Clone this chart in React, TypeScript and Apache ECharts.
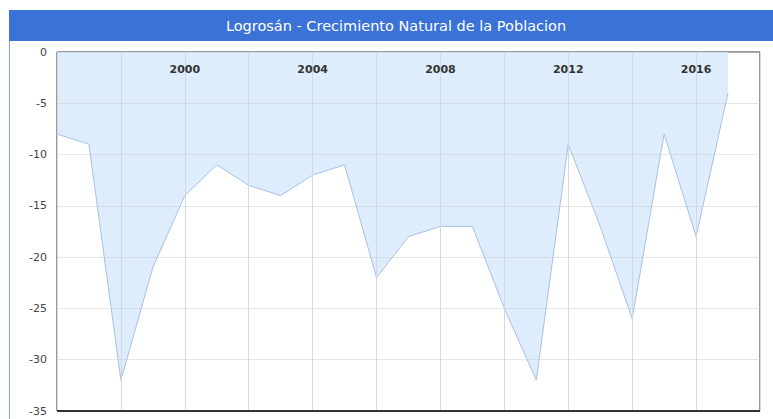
import React, { useEffect, useRef } from "react";
import * as echarts from "echarts";

const titleText = "Logrosán - Crecimiento Natural de la Poblacion";
const years = [1996, 1997, 1998, 1999, 2000, 2001, 2002, 2003, 2004, 2005, 2006, 2007, 2008, 2009, 2010, 2011, 2012, 2013, 2014, 2015, 2016, 2017];
const values = [-8, -9, -32, -21, -14, -11, -13, -14, -12, -11, -22, -18, -17, -17, -25, -32, -9, -17, -26, -8, -18, -4];
const yearLabels = [2000, 2004, 2008, 2012, 2016];

export default function App() {
  const ref = useRef<HTMLDivElement>(null);
  useEffect(() => {
    if (!ref.current) return;
    const chart = echarts.init(ref.current, undefined, { renderer: "svg" });
    chart.setOption({
      animation: false,
      backgroundColor: "#ffffff",
      textStyle: { fontFamily: "DejaVu Sans" },
      graphic: [
        {
          type: "rect",
          shape: { x: 9, y: 10, width: 764, height: 31 },
          style: { fill: "#3a72d8" },
          silent: true,
        },
        {
          type: "line",
          shape: { x1: 9.5, y1: 41, x2: 9.5, y2: 419 },
          style: { stroke: "#7aa3e8", lineWidth: 1 },
          silent: true,
        },
        {
          type: "line",
          shape: { x1: 57, y1: 411, x2: 760, y2: 411 },
          style: { stroke: "#333333", lineWidth: 2 },
          silent: true,
          z: 10,
        },
        {
          type: "text",
          x: 396,
          y: 26,
          style: {
            text: titleText,
            fill: "#ffffff",
            font: "14.5px DejaVu Sans",
            textAlign: "center",
            textVerticalAlign: "middle",
          },
          silent: true,
        },
      ],
      grid: {
        left: 57,
        right: 13,
        top: 52,
        bottom: 8,
        show: true,
        borderColor: "#333333",
        borderWidth: 1,
        backgroundColor: "transparent",
      },
      xAxis: {
        type: "value",
        position: "top",
        min: 1996,
        max: 2018,
        interval: 2,
        z: 3,
        axisLine: { show: false },
        axisTick: { show: false },
        splitLine: { show: true, lineStyle: { color: "#d4d8de", width: 1 } },
        axisLabel: {
          inside: true,
          margin: 12,
          color: "#333333",
          fontSize: 11,
          fontWeight: "bold",
          fontFamily: "DejaVu Sans",
          showMinLabel: false,
          showMaxLabel: false,
          formatter: (v: number) => (yearLabels.indexOf(Math.round(v)) >= 0 ? String(Math.round(v)) : ""),
        },
      },
      yAxis: {
        type: "value",
        min: -35,
        max: 0,
        interval: 5,
        z: 3,
        axisLine: { show: false },
        axisTick: { show: false },
        splitLine: { show: true, lineStyle: { color: "rgba(200,200,200,0.45)", width: 1 } },
        axisLabel: {
          color: "#444444",
          fontSize: 11,
          fontFamily: "DejaVu Sans",
          margin: 10,
        },
      },
      series: [
        {
          type: "line",
          data: years.map((y, i) => [y, values[i]]),
          symbol: "none",
          lineStyle: { color: "#a9bfe5", width: 1 },
          areaStyle: { color: "#deedfc", opacity: 1, origin: "auto" },
          z: 2,
        },
      ],
    });
    return () => chart.dispose();
  }, []);
  return (
    <div
      ref={ref}
      style={{ position: "fixed", left: 0, top: 0, width: 773, height: 419 }}
    />
  );
}
